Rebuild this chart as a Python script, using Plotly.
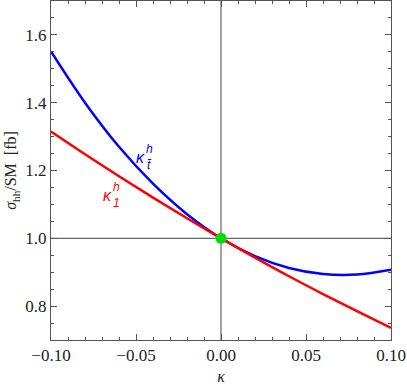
import plotly.graph_objects as go

kappa = [-0.10, -0.08, -0.06, -0.04, -0.02, 0.00, 0.02, 0.04, 0.06, 0.08, 0.10]
sigma_kt = [1.551, 1.400, 1.270, 1.161, 1.071, 1.000, 0.9475, 0.9125, 0.8946, 0.893, 0.907]
sigma_k1 = [1.315, 1.248, 1.183, 1.120, 1.059, 1.000, 0.943, 0.888, 0.8355, 0.785, 0.736]
sm_point_x = [0.0]
sm_point_y = [1.0]
x_ticks = [-0.10, -0.05, 0.00, 0.05, 0.10]
y_ticks = [0.8, 1.0, 1.2, 1.4, 1.6]
ref_x = 0.0
ref_y = 1.0

SERIF = "Liberation Serif"
SANS = "Liberation Sans"

fig = go.Figure()
fig.add_hline(y=ref_y, line=dict(color="#666666", width=1.2), layer="below")
fig.add_vline(x=ref_x, line=dict(color="#666666", width=1.2), layer="below")

fig.add_trace(go.Scatter(x=kappa, y=sigma_kt, mode="lines",
                         line=dict(color="#0000ff", width=2.5, shape="spline"), showlegend=False))
fig.add_trace(go.Scatter(x=kappa, y=sigma_k1, mode="lines",
                         line=dict(color="#ff0000", width=2.5, shape="spline"), showlegend=False))
fig.add_trace(go.Scatter(x=sm_point_x, y=sm_point_y, mode="markers",
                         marker=dict(color="#00dd00", size=11), showlegend=False))

def label(x, y, main, sup, sub, color):
    fig.add_annotation(x=x, y=y, text="<i>" + main + "</i>", showarrow=False,
                       font=dict(family=SANS, size=16, color=color), xanchor="center", yanchor="middle")
    fig.add_annotation(x=x, y=y, text="<i>" + sup + "</i>", showarrow=False, xshift=9, yshift=9,
                       font=dict(family=SANS, size=12, color=color), xanchor="center", yanchor="middle")
    fig.add_annotation(x=x, y=y, text="<i>" + sub + "</i>", showarrow=False, xshift=9, yshift=-7,
                       font=dict(family=SANS, size=12, color=color), xanchor="center", yanchor="middle")

label(-0.0476, 1.238, "κ", "h", "t̄", "#0000ff")
label(-0.0665, 1.126, "κ", "h", "1", "#ff0000")

axis_common = dict(showgrid=False, zeroline=False, showline=True, linecolor="#555555", linewidth=1,
                   mirror="allticks", ticks="inside", ticklen=6, tickcolor="#555555", tickwidth=1,
                   tickfont=dict(family=SERIF, size=17, color="#222222"))

fig.update_xaxes(range=[-0.10, 0.10], tickvals=x_ticks, tickformat=".2f",
                 minor=dict(ticks="inside", ticklen=3, dtick=0.01, tickcolor="#555555", showgrid=False),
                 title=dict(text="<i>κ</i>", font=dict(family=SERIF, size=16, color="#222222"),
                            standoff=6),
                 **axis_common)
fig.update_yaxes(range=[0.7, 1.7], tickvals=y_ticks, tickformat=".1f",
                 minor=dict(ticks="inside", ticklen=3, dtick=0.05, tickcolor="#555555", showgrid=False),
                 title=dict(text="<i>σ</i><sub>hh</sub>/SM  [fb]",
                            font=dict(family=SERIF, size=16, color="#222222"), standoff=4),
                 **axis_common)

fig.update_layout(width=407, height=388, margin=dict(l=51, r=16, t=1, b=48),
                  plot_bgcolor="white", paper_bgcolor="white",
                  font=dict(family=SERIF))
fig.write_html("out.html", config={"displayModeBar": False},
               post_script="document.body.style.margin='0';")
